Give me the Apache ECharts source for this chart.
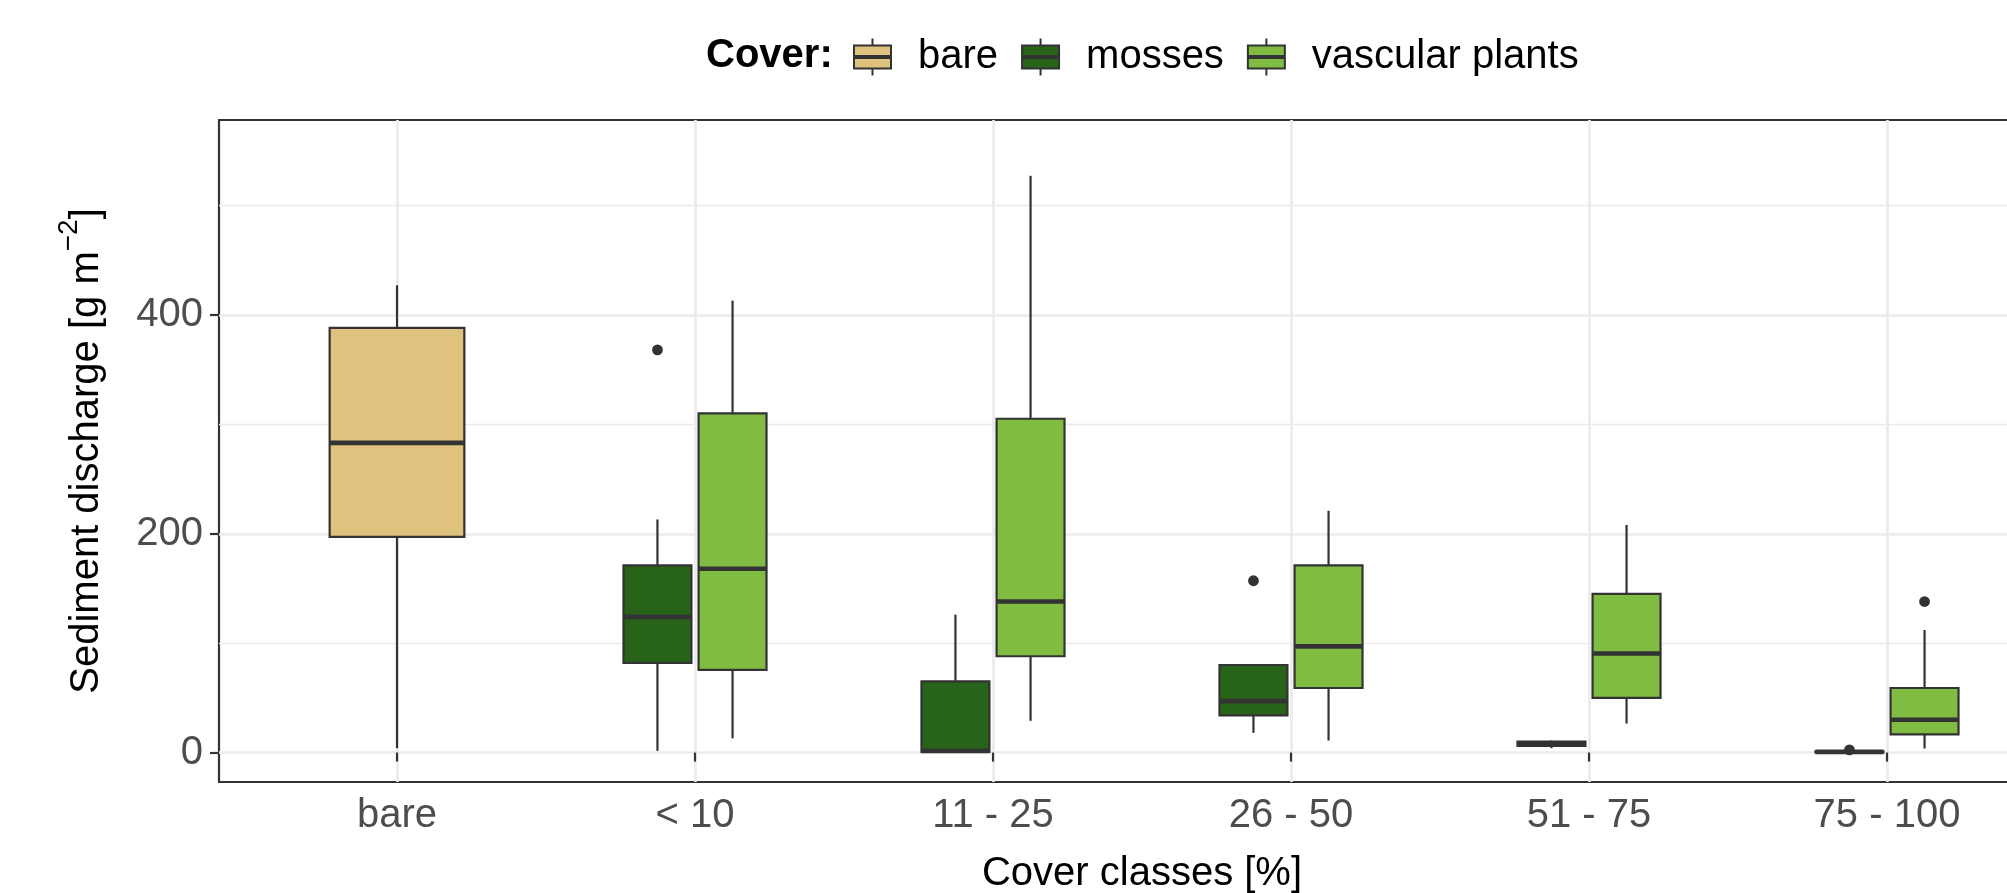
<!DOCTYPE html>
<html><head><meta charset="utf-8">
<script src="https://cdn.jsdelivr.net/npm/echarts@6/dist/echarts.min.js"></script>
<style>html,body{margin:0;padding:0;background:#fff}#c{width:2007px;height:893px}</style>
</head><body><div id="c"></div>
<script>
// ---- data ----
const categories = ['bare', '< 10', '11 - 25', '26 - 50', '51 - 75', '75 - 100'];
// five-number summaries per category: [min, Q1, median, Q3, max]; null = group absent
const bareStats     = [[4, 197, 283, 388, 427], null, null, null, null, null];
const mossesStats   = [null, [1.6, 82, 124, 171, 213], [0, 0.5, 1.5, 65, 126], [18, 34, 47, 80, 80], [4, 6, 8, 10, 11], [0, 0.2, 0.6, 1.0, 1.4]];
const vascularStats = [null, [13, 75.5, 168, 310, 413], [29, 88, 138, 305, 527], [11, 59, 97, 171, 221], [26.5, 50, 90.5, 145, 208], [3.7, 16.7, 30, 59, 112]];
// outliers: [category index, value]
const mossesOutliers   = [[1, 368], [3, 157], [5, 2.4]];
const vascularOutliers = [[5, 138]];
const seriesNames = ['bare', 'mosses', 'vascular plants'];
const yMajorTicks = [0, 200, 400];

const FONT = 'Liberation Sans, Arial, Helvetica, sans-serif';
const colors = { 'bare': '#DFC27D', 'mosses': '#276419', 'vascular plants': '#7FBC41' };
const LINE = '#333333';

function toRows(stats) {
  const rows = [];
  stats.forEach((s, i) => { if (s) rows.push([i].concat(s)); });
  return rows;
}

function boxRenderer(offsetFrac, widthFrac, fill) {
  return function (params, api) {
    const i = api.value(0);
    const pMin = api.coord([i, api.value(1)]);
    const pQ1 = api.coord([i, api.value(2)]);
    const pMed = api.coord([i, api.value(3)]);
    const pQ3 = api.coord([i, api.value(4)]);
    const pMax = api.coord([i, api.value(5)]);
    const band = api.size([1, 0])[0];
    const cx = pMin[0] + offsetFrac * band;
    const w = widthFrac * band;
    return {
      type: 'group',
      children: [
        { type: 'line', shape: { x1: cx, y1: pMax[1], x2: cx, y2: pQ3[1] }, style: { stroke: LINE, lineWidth: 2.2 } },
        { type: 'line', shape: { x1: cx, y1: pQ1[1], x2: cx, y2: pMin[1] }, style: { stroke: LINE, lineWidth: 2.2 } },
        { type: 'rect', shape: { x: cx - w / 2, y: pQ3[1], width: w, height: pQ1[1] - pQ3[1] }, style: { fill: fill, stroke: LINE, lineWidth: 2.2 } },
        { type: 'line', shape: { x1: cx - w / 2, y1: pMed[1], x2: cx + w / 2, y2: pMed[1] }, style: { stroke: LINE, lineWidth: 4.6 } }
      ]
    };
  };
}

function outlierRenderer(offsetFrac) {
  return function (params, api) {
    const p = api.coord([api.value(0), api.value(1)]);
    const band = api.size([1, 0])[0];
    return { type: 'circle', shape: { cx: p[0] + offsetFrac * band, cy: p[1], r: 5.4 }, style: { fill: LINE } };
  };
}

const OFF = 0.126, W2 = 0.228, W1 = 0.452;
const legendIcon = 'path://M0,7H37V17.6H0Z M0,19.4H37V30H0Z M18.5,0V7 M18.5,30V37';

const chart = echarts.init(document.getElementById('c'), null, { renderer: 'canvas', width: 2007, height: 893 });
chart.setOption({
  animation: false,
  backgroundColor: '#ffffff',
  textStyle: { fontFamily: FONT },
  title: {
    text: 'Cover:', left: 706, top: 36, padding: 0,
    textStyle: { fontFamily: FONT, fontSize: 40, fontWeight: 'bold', color: '#000000', lineHeight: 40 }
  },
  legend: {
    data: seriesNames.map(n => ({ name: n, icon: legendIcon })),
    left: 853, top: 37, padding: 0,
    itemWidth: 81, itemHeight: 37, itemGap: 23,
    selectedMode: false,
    itemStyle: { borderColor: LINE, borderWidth: 2 },
    textStyle: { fontFamily: FONT, fontSize: 40, color: '#000000' }
  },
  grid: [
    { left: 219, top: 120, width: 1848, height: 662, show: true, borderColor: LINE, borderWidth: 2.2, backgroundColor: 'transparent', outerBoundsMode: 'none', containLabel: false },
    { left: 219, top: 314.9, width: 1848, height: 437.8, outerBoundsMode: 'none', containLabel: false },
    { left: 219, top: 205.45, width: 1848, height: 437.8, outerBoundsMode: 'none', containLabel: false },
    { left: 397, top: 120, width: 1490, height: 662, outerBoundsMode: 'none', containLabel: false }
  ],
  xAxis: [
    { gridIndex: 0, type: 'value', min: 0, max: 1, show: false },
    { gridIndex: 1, type: 'value', min: 0, max: 1, show: false },
    { gridIndex: 2, type: 'value', min: 0, max: 1, show: false },
    {
      gridIndex: 3, type: 'category', data: categories, boundaryGap: false,
      axisLine: { show: false },
      axisTick: { show: true, interval: 0, length: 9, lineStyle: { color: LINE, width: 2.2 } },
      axisLabel: { interval: 0, fontFamily: FONT, fontSize: 40, color: '#4D4D4D', margin: 14 },
      splitLine: { show: true, interval: 0, lineStyle: { color: '#EBEBEB', width: 2.7 } },
      name: 'Cover classes [%]', nameLocation: 'middle', nameGap: 72,
      nameTextStyle: { fontFamily: FONT, fontSize: 40, color: '#000000' }
    }
  ],
  yAxis: [
    {
      gridIndex: 0, type: 'value', min: -26.9, max: 578,
      axisLine: { show: false }, axisTick: { show: false }, axisLabel: { show: false }, splitLine: { show: false },
      name: '{t|Sediment discharge [g m}{s|\u22122}{t|]}',
      nameLocation: 'middle', nameGap: 112, nameRotate: 90,
      nameTextStyle: {
        fontFamily: FONT, color: '#000000',
        rich: {
          t: { fontFamily: FONT, fontSize: 40, lineHeight: 40, color: '#000000', verticalAlign: 'bottom' },
          s: { fontFamily: FONT, fontSize: 28, lineHeight: 28, color: '#000000', verticalAlign: 'bottom', padding: [0, 0, 24, 0] }
        }
      }
    },
    {
      gridIndex: 1, type: 'value', min: yMajorTicks[0], max: yMajorTicks[yMajorTicks.length - 1], interval: 200,
      axisLine: { show: false },
      axisTick: { show: true, length: 9, lineStyle: { color: LINE, width: 2.2 } },
      axisLabel: { fontFamily: FONT, fontSize: 40, color: '#4D4D4D', margin: 16 },
      splitLine: { show: true, lineStyle: { color: '#EBEBEB', width: 2.7 } }
    },
    {
      gridIndex: 2, type: 'value', min: 100, max: 500, interval: 200,
      axisLine: { show: false }, axisTick: { show: false }, axisLabel: { show: false },
      splitLine: { show: true, lineStyle: { color: '#EBEBEB', width: 1.3 } }
    },
    { gridIndex: 3, type: 'value', min: -26.9, max: 578, show: false }
  ],
  series: [
    {
      name: 'bare', type: 'custom', xAxisIndex: 3, yAxisIndex: 3, z: 3,
      itemStyle: { color: colors['bare'], borderColor: LINE, borderWidth: 2 },
      encode: { x: 0, y: [1, 2, 3, 4, 5] },
      data: toRows(bareStats), renderItem: boxRenderer(0, W1, colors['bare'])
    },
    {
      name: 'mosses', type: 'custom', xAxisIndex: 3, yAxisIndex: 3, z: 3,
      itemStyle: { color: colors['mosses'], borderColor: LINE, borderWidth: 2 },
      encode: { x: 0, y: [1, 2, 3, 4, 5] },
      data: toRows(mossesStats), renderItem: boxRenderer(-OFF, W2, colors['mosses'])
    },
    {
      name: 'vascular plants', type: 'custom', xAxisIndex: 3, yAxisIndex: 3, z: 3,
      itemStyle: { color: colors['vascular plants'], borderColor: LINE, borderWidth: 2 },
      encode: { x: 0, y: [1, 2, 3, 4, 5] },
      data: toRows(vascularStats), renderItem: boxRenderer(OFF, W2, colors['vascular plants'])
    },
    {
      name: 'mosses outliers', type: 'custom', xAxisIndex: 3, yAxisIndex: 3, z: 4,
      encode: { x: 0, y: 1 }, data: mossesOutliers, renderItem: outlierRenderer(-OFF)
    },
    {
      name: 'vascular outliers', type: 'custom', xAxisIndex: 3, yAxisIndex: 3, z: 4,
      encode: { x: 0, y: 1 }, data: vascularOutliers, renderItem: outlierRenderer(OFF)
    }
  ]
});
</script>
</body></html>
